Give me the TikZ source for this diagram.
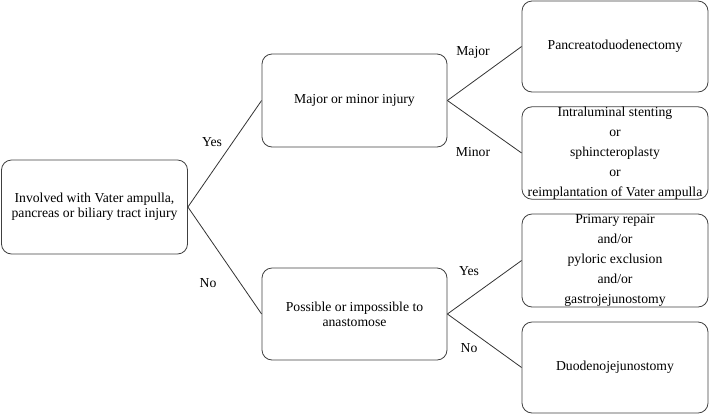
\documentclass[tikz,border=0pt]{standalone}
\usepackage{fontspec}
\setmainfont{Liberation Serif}
\begin{document}
\begin{tikzpicture}[x=1pt,y=-1pt,
  box/.style={draw=black!75, line width=0.8pt, rounded corners=10pt, align=center, inner sep=0pt,
    font=\fontsize{13.7}{20}\selectfont},
  lbl/.style={font=\fontsize{13.7}{15}\selectfont, inner sep=0pt},
  conn/.style={draw=black!80, line width=0.8pt}]
\useasboundingbox (0,0) rectangle (709,416);
\node[box, minimum width=186pt, minimum height=94pt] (a) at (94.5,207) {Involved with Vater ampulla,\\[-5pt]pancreas or biliary tract injury};
\node[box, minimum width=185pt, minimum height=93pt] (b) at (354.5,100.5) {Major or minor injury};
\node[box, minimum width=185pt, minimum height=92pt] (c) at (354.5,314) {Possible or impossible to\\[-5pt]anastomose};
\node[box, minimum width=186pt, minimum height=91pt] (d) at (615,46.5) {Pancreatoduodenectomy};
\node[box, minimum width=186pt, minimum height=92pt] (e) at (615,153) {Intraluminal stenting\\or\\sphincteroplasty\\or\\reimplantation of Vater ampulla};
\node[box, minimum width=186pt, minimum height=93pt] (f) at (615,260.5) {Primary repair\\and/or\\pyloric exclusion\\and/or\\gastrojejunostomy};
\node[box, minimum width=186pt, minimum height=91pt] (g) at (615,367.5) {Duodenojejunostomy};
\draw[conn] (a.east) -- (b.west);
\draw[conn] (a.east) -- (c.west);
\draw[conn] (b.east) -- (d.west);
\draw[conn] (b.east) -- (e.west);
\draw[conn] (c.east) -- (f.west);
\draw[conn] (c.east) -- (g.west);
\node[lbl] (l1) at (212,142) {Yes};
\node[lbl] (l2) at (208,283) {No};
\node[lbl] (l3) at (473,52) {Major};
\node[lbl] (l4) at (473,152) {Minor};
\node[lbl] (l5) at (469,271) {Yes};
\node[lbl] (l6) at (469,348) {No};
\end{tikzpicture}
\end{document}
